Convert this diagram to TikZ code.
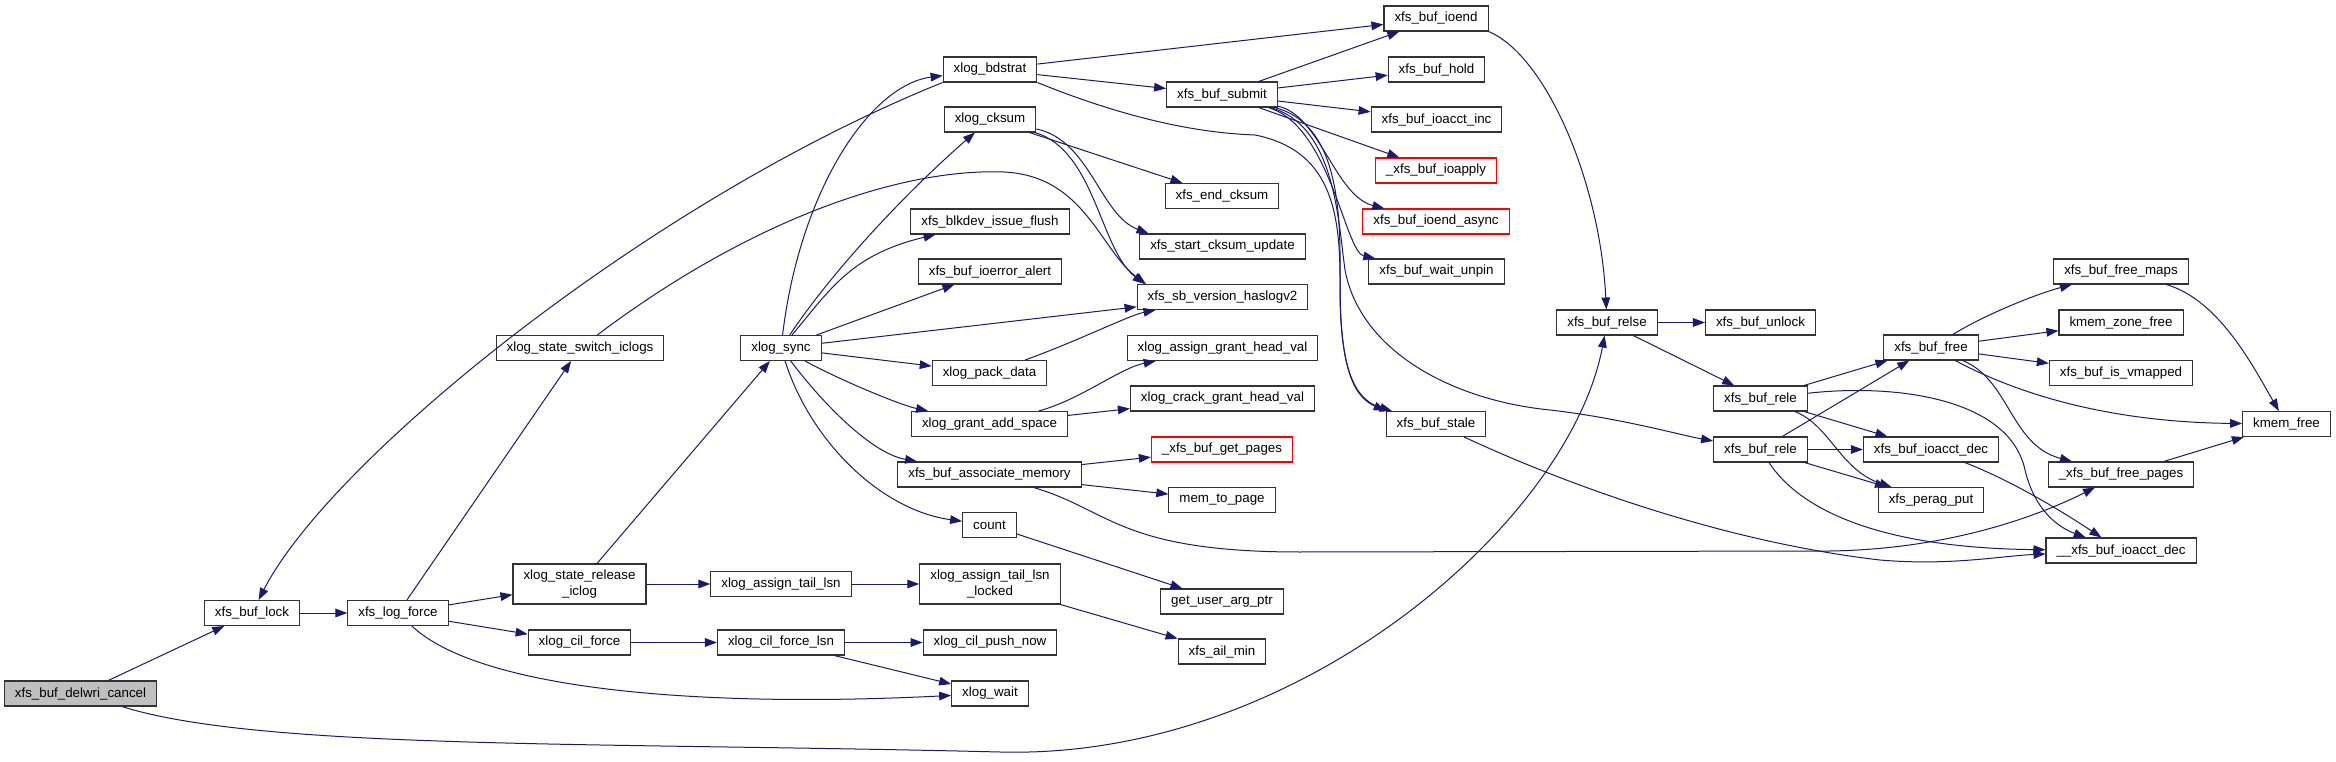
\documentclass[tikz,border=0pt]{standalone}
\usepackage{fontspec}
\setmainfont{Liberation Sans}
\usepackage{tikz}
\usetikzlibrary{arrows.meta}
\definecolor{edgeblue}{HTML}{191970}

\begin{document}
\begin{tikzpicture}[x=0.75pt, y=-0.75pt,
    fn/.style={draw=black!80, line width=0.8pt, fill=white, inner xsep=7.9pt, inner ysep=0pt,
      minimum height=18.75pt, font=\fontsize{10}{12}\selectfont},
    fn2/.style={fn, align=center, minimum height=30pt, font=\fontsize{10}{11.5}\selectfont},
    root/.style={fn, fill=black!25},
    miss/.style={fn, draw=red},
    call/.style={draw=edgeblue, line width=0.75pt, -{Triangle[length=9pt, width=6.5pt]}}]
    \useasboundingbox (0,0) rectangle (2336,762);

    \node[root] (cancel) at (80.5,693.5) {xfs\_buf\_delwri\_cancel};
    \node[fn] (lock) at (252,613) {xfs\_buf\_lock};
    \node[fn] (logforce) at (398,613) {xfs\_log\_force};
    \node[fn] (switchic) at (580,348) {xlog\_state\_switch\_iclogs};
    \node[fn2] (releaseic) at (579.5,584) {xlog\_state\_release\\\_iclog};
    \node[fn] (cilforce) at (579.5,642.5) {xlog\_cil\_force};
    \node[fn] (sync) at (781,348) {xlog\_sync};
    \node[fn] (assigntail) at (781,584) {xlog\_assign\_tail\_lsn};
    \node[fn] (cilforcelsn) at (781,642.5) {xlog\_cil\_force\_lsn};
    \node[fn] (bdstrat) at (990,69.5) {xlog\_bdstrat};
    \node[fn] (cksum) at (990,119.5) {xlog\_cksum};
    \node[fn] (blkdev) at (990,221.5) {xfs\_blkdev\_issue\_flush};
    \node[fn] (ioerr) at (990,271.5) {xfs\_buf\_ioerror\_alert};
    \node[fn] (packdata) at (989.5,373) {xlog\_pack\_data};
    \node[fn] (grantadd) at (989.5,424) {xlog\_grant\_add\_space};
    \node[fn] (assocmem) at (989.5,474.5) {xfs\_buf\_associate\_memory};
    \node[fn] (count) at (989.5,525) {count};
    \node[fn2] (tailocked) at (990,584) {xlog\_assign\_tail\_lsn\\\_locked};
    \node[fn] (pushnow) at (990,642.5) {xlog\_cil\_push\_now};
    \node[fn] (wait) at (990,693.5) {xlog\_wait};
    \node[fn] (submit) at (1222,94.5) {xfs\_buf\_submit};
    \node[fn] (endcksum) at (1222,196) {xfs\_end\_cksum};
    \node[fn] (startcksum) at (1222.5,246.5) {xfs\_start\_cksum\_update};
    \node[fn] (haslogv2) at (1222.5,297) {xfs\_sb\_version\_haslogv2};
    \node[fn] (grantheadval) at (1222.5,348) {xlog\_assign\_grant\_head\_val};
    \node[fn] (crack) at (1222.5,398.5) {xlog\_crack\_grant\_head\_val};
    \node[miss] (getpages) at (1222,449.5) {\_xfs\_buf\_get\_pages};
    \node[fn] (memtopage) at (1222,500) {mem\_to\_page};
    \node[fn] (getuser) at (1222,601.5) {get\_user\_arg\_ptr};
    \node[fn] (ailmin) at (1222,651.5) {xfs\_ail\_min};
    \node[fn] (ioend) at (1436,18.5) {xfs\_buf\_ioend};
    \node[fn] (hold) at (1436.5,69.5) {xfs\_buf\_hold};
    \node[fn] (ioacctinc) at (1436.5,119.5) {xfs\_buf\_ioacct\_inc};
    \node[miss] (ioapply) at (1436,170.5) {\_xfs\_buf\_ioapply};
    \node[miss] (ioendasync) at (1436,221.5) {xfs\_buf\_ioend\_async};
    \node[fn] (waitunpin) at (1436.5,271.5) {xfs\_buf\_wait\_unpin};
    \node[fn] (stale) at (1436,424) {xfs\_buf\_stale};
    \node[fn] (relse) at (1607,322.5) {xfs\_buf\_relse};
    \node[fn] (unlock) at (1760.5,322.5) {xfs\_buf\_unlock};
    \node[fn] (releA) at (1760.5,398.5) {xfs\_buf\_rele};
    \node[fn] (releB) at (1760.5,449.5) {xfs\_buf\_rele};
    \node[fn] (free) at (1931,347.5) {xfs\_buf\_free};
    \node[fn] (ioacctdec) at (1931,449.5) {xfs\_buf\_ioacct\_dec};
    \node[fn] (peragput) at (1931,500) {xfs\_perag\_put};
    \node[fn] (freemaps) at (2121,271.5) {xfs\_buf\_free\_maps};
    \node[fn] (zonefree) at (2121,322.5) {kmem\_zone\_free};
    \node[fn] (vmapped) at (2121,373) {xfs\_buf\_is\_vmapped};
    \node[fn] (freepages) at (2121,474.5) {\_xfs\_buf\_free\_pages};
    \node[fn] (uioacctdec) at (2121,550.5) {\_\_xfs\_buf\_ioacct\_dec};
    \node[fn] (kmemfree) at (2286.5,424) {kmem\_free};

    \draw[call] (cancel) -- (lock);
    \draw[call] (cancel) .. controls (260,750) and (600,742) .. (1000,752) .. controls (1300,760) and (1570,520) .. (relse);
    \draw[call] (lock) -- (logforce);
    \draw[call] (bdstrat.south west) .. controls (650,200) and (330,460) .. (lock);
    \draw[call] (logforce) -- (switchic);
    \draw[call] (logforce) -- (releaseic);
    \draw[call] (logforce) -- (cilforce);
    \draw[call] (logforce) .. controls (480,690) and (700,708) .. (wait);
    \draw[call] (switchic) .. controls (750,220) and (900,168) .. (1004,172) .. controls (1085,176) and (1100,250) .. ([xshift=7pt]haslogv2.north west);
    \draw[call] (releaseic) -- (sync);
    \draw[call] (releaseic) -- (assigntail);
    \draw[call] (cilforce) -- (cilforcelsn);
    \draw[call] (cilforcelsn) -- (pushnow);
    \draw[call] (cilforcelsn) -- (wait);
    \draw[call] (assigntail) -- (tailocked);
    \draw[call] (tailocked) -- (ailmin);
    \draw[call] (sync) .. controls (800,190) and (870,85) .. (bdstrat);
    \draw[call] (sync) .. controls (840,260) and (920,180) .. (cksum);
    \draw[call] (sync) .. controls (830,290) and (850,255) .. (blkdev);
    \draw[call] (sync) -- (ioerr);
    \draw[call] (sync) -- (haslogv2);
    \draw[call] (sync) -- (packdata);
    \draw[call] (sync) .. controls (840,380) and (900,405) .. (grantadd);
    \draw[call] (sync) .. controls (820,400) and (870,453) .. (assocmem);
    \draw[call] (sync) .. controls (810,440) and (880,510) .. (count);
    \draw[call] (bdstrat) -- (ioend);
    \draw[call] (bdstrat) -- (submit);
    \draw[call] (bdstrat.south east) .. controls (1130,120) and (1200,133) .. (1255,135) .. controls (1330,150) and (1340,210) .. (1340,280) .. controls (1340,360) and (1350,395) .. (stale.north west);
    \draw[call] (submit) -- (ioend);
    \draw[call] (submit) -- (hold);
    \draw[call] (submit) -- (ioacctinc);
    \draw[call] (submit) -- (ioapply);
    \draw[call] (submit) .. controls (1320,115) and (1335,196) .. (ioendasync);
    \draw[call] (submit) .. controls (1330,125) and (1345,252) .. (waitunpin);
    \draw[call] (submit) .. controls (1345,125) and (1340,230) .. (1340,290) .. controls (1340,370) and (1355,400) .. (stale);
    \draw[call] (submit) .. controls (1335,125) and (1338,220) .. (1345,270) .. controls (1360,350) and (1450,400) .. (1550,410) .. controls (1620,418) and (1680,435) .. (releB);
    \draw[call] (cksum) -- (endcksum);
    \draw[call] (cksum) .. controls (1090,140) and (1100,215) .. ([xshift=7pt]startcksum.north west);
    \draw[call] (cksum) .. controls (1095,150) and (1100,250) .. ([xshift=6pt]haslogv2.north west);
    \draw[call] (packdata) .. controls (1080,340) and (1130,315) .. (haslogv2);
    \draw[call] (grantadd) .. controls (1080,400) and (1120,368) .. (grantheadval);
    \draw[call] (grantadd) -- (crack);
    \draw[call] (assocmem) -- (getpages);
    \draw[call] (assocmem) -- (memtopage);
    \draw[call] (assocmem) .. controls (1110,510) and (1120,552) .. (1300,552) -- (1830,551) .. controls (1960,549) and (2050,510) .. (freepages);
    \draw[call] (count) -- (getuser);
    \draw[call] (ioend.south east) .. controls (1545,55) and (1600,180) .. (relse);
    \draw[call] (relse) -- (unlock);
    \draw[call] (relse) -- (releA);
    \draw[call] (releA) -- (free);
    \draw[call] (releA) -- (ioacctdec);
    \draw[call] (releA) .. controls (1830,425) and (1840,470) .. (peragput);
    \draw[call] (releA) .. controls (1900,383) and (2010,400) .. (2025,470) .. controls (2035,512) and (2060,528) .. (uioacctdec);
    \draw[call] (releB) -- (free);
    \draw[call] (releB) -- (ioacctdec);
    \draw[call] (releB) -- (peragput);
    \draw[call] (releB) .. controls (1800,510) and (1880,548) .. (uioacctdec);
    \draw[call] (free) .. controls (1990,312) and (2040,293) .. (freemaps);
    \draw[call] (free) -- (zonefree);
    \draw[call] (free) -- (vmapped);
    \draw[call] (free) .. controls (2010,390) and (2100,422) .. (kmemfree);
    \draw[call] (free) .. controls (2010,380) and (2010,445) .. (freepages);
    \draw[call] (freemaps) .. controls (2220,300) and (2255,370) .. (kmemfree);
    \draw[call] (freepages) -- (kmemfree);
    \draw[call] (ioacctdec) .. controls (2010,480) and (2060,510) .. (uioacctdec);
    \draw[call] (stale) .. controls (1600,500) and (1750,545) .. (1880,560) .. controls (1950,566) and (2000,556) .. (uioacctdec);
\end{tikzpicture}
\end{document}
